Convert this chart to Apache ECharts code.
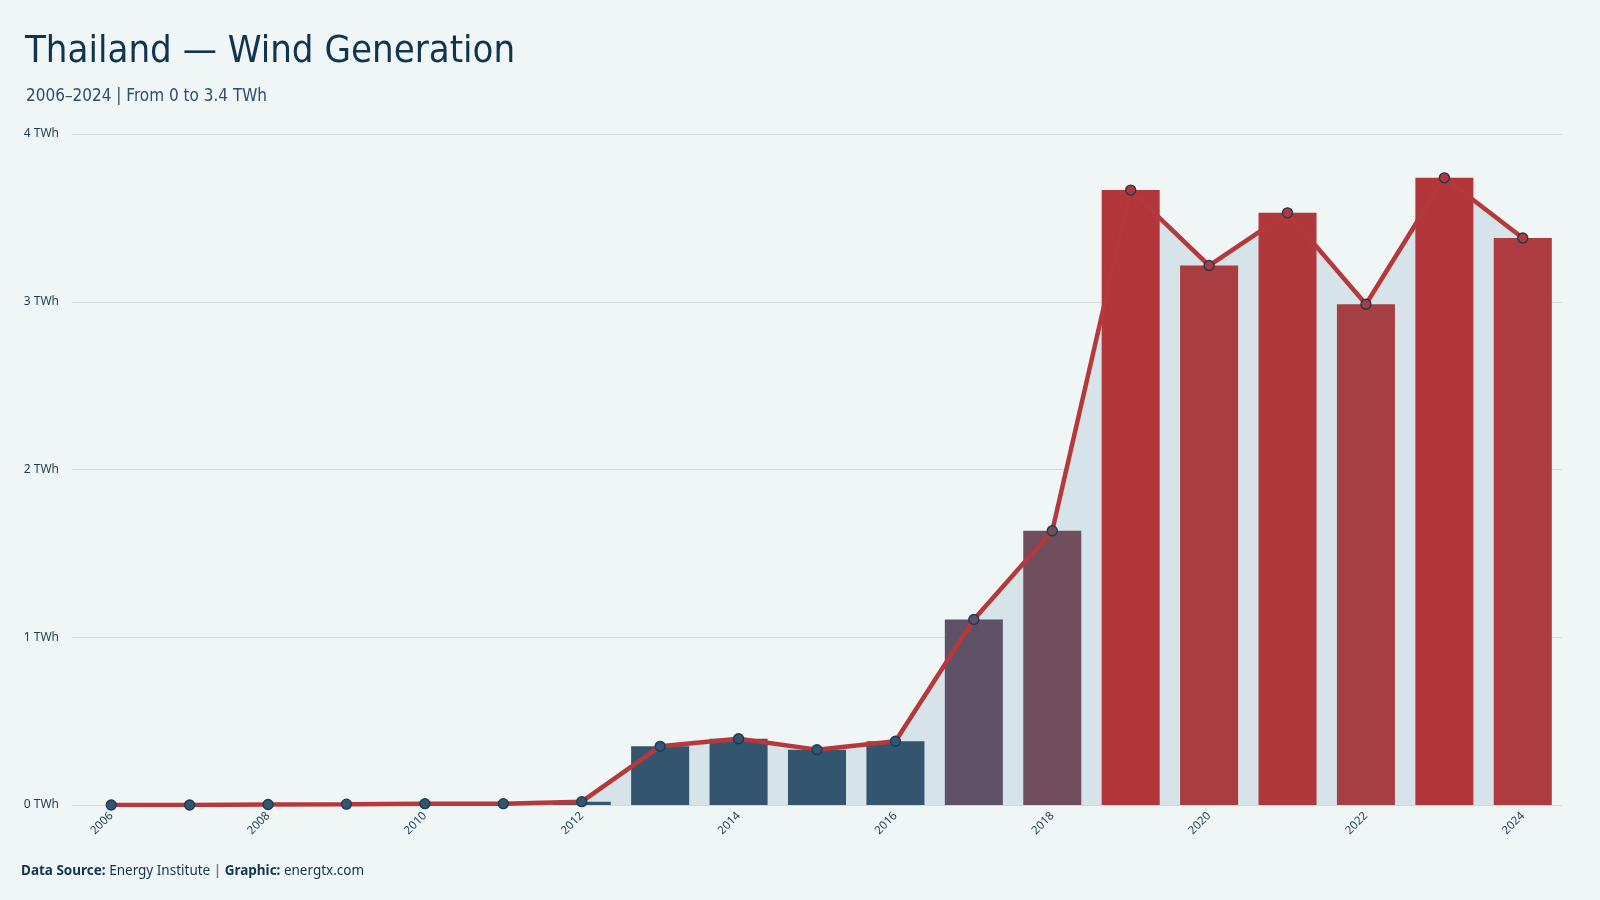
<!DOCTYPE html>
<html>
<head>
<meta charset="utf-8">
<title>Thailand — Wind Generation</title>
<script src="https://cdn.jsdelivr.net/npm/echarts@6/dist/echarts.min.js"></script>
<style>
  html, body { margin: 0; padding: 0; background: #f0f5f5; }
  #chart { width: 1600px; height: 900px; }
</style>
</head>
<body>
<div id="chart"></div>
<script>
const years = ['2006', '2007', '2008', '2009', '2010', '2011', '2012', '2013', '2014', '2015',
  '2016', '2017', '2018', '2019', '2020', '2021', '2022', '2023', '2024'];
const windTWh = [0.0, 0.0, 0.003, 0.005, 0.008, 0.008, 0.02, 0.35, 0.395, 0.33,
  0.38, 1.106, 1.635, 3.666, 3.216, 3.53, 2.985, 3.739, 3.38];
const yTicks = [0, 1, 2, 3, 4];

// colour ramp (value -> rgb), blue for small values, red for large ones
const rampStops = [
  [0.4, [0x34, 0x55, 0x6f]],
  [1.1, [0x5e, 0x50, 0x66]],
  [1.65, [0x72, 0x4e, 0x5d]],
  [3.0, [0xa5, 0x40, 0x44]],
  [3.7, [0xb3, 0x36, 0x3a]]
];
function valueColor(v) {
  if (v <= rampStops[0][0]) return `rgb(${rampStops[0][1].join(',')})`;
  for (let i = 1; i < rampStops.length; i++) {
    const [v1, c1] = rampStops[i];
    const [v0, c0] = rampStops[i - 1];
    if (v <= v1) {
      const t = (v - v0) / (v1 - v0);
      const c = c0.map((a, k) => Math.round(a + (c1[k] - a) * t));
      return `rgb(${c.join(',')})`;
    }
  }
  return `rgb(${rampStops[rampStops.length - 1][1].join(',')})`;
}

const textDark = '#1f3a52';
const condensed = '"DejaVu Sans Condensed", "Liberation Sans Narrow", "Roboto"';
const chart = echarts.init(document.getElementById('chart'));

const option = {
  backgroundColor: '#f0f5f5',
  animation: false,
  title: [
    {
      text: 'Thailand — Wind Generation',
      left: 20,
      top: 28,
      textStyle: {
        fontFamily: condensed,
        fontSize: 38,
        fontWeight: 'normal',
        color: '#0f3550'
      }
    },
    {
      text: '2006–2024 | From 0 to 3.4 TWh',
      left: 21,
      top: 83,
      textStyle: {
        fontFamily: condensed,
        fontSize: 17,
        fontWeight: 'normal',
        color: '#2e4f6b'
      }
    }
  ],
  graphic: [
    {
      type: 'text',
      left: 21,
      top: 864,
      style: {
        text: '{b|Data Source:} Energy Institute {sep||} {b|Graphic:} energtx.com',
        rich: {
          b: { fontFamily: 'Noto Sans', fontSize: 13.5, fontWeight: 'bold', fill: '#0f3550' },
          sep: { fontFamily: 'Noto Sans', fontSize: 13.5, fontWeight: 'bold', fill: '#6b8497' }
        },
        font: '13.5px "Noto Sans"',
        fill: '#0f3550'
      }
    }
  ],
  grid: {
    left: 72,
    right: 38,
    top: 134,
    bottom: 95,
    containLabel: false
  },
  xAxis: {
    type: 'category',
    data: years,
    boundaryGap: true,
    axisLine: { show: false },
    axisTick: { show: false },
    axisLabel: {
      interval: 1,
      rotate: 45,
      margin: 9,
      fontFamily: 'Noto Sans',
      fontSize: 11.5,
      color: textDark
    }
  },
  yAxis: {
    type: 'value',
    min: yTicks[0],
    max: yTicks[yTicks.length - 1],
    interval: 1,
    axisLine: { show: false },
    axisTick: { show: false },
    axisLabel: {
      margin: 13,
      fontFamily: 'Noto Sans',
      fontSize: 12,
      color: textDark,
      formatter: v => `${v} TWh`
    },
    splitLine: { lineStyle: { color: '#cfdbdb', width: 1 } }
  },
  series: [
    {
      name: 'area',
      type: 'line',
      data: windTWh,
      z: 1,
      symbol: 'none',
      lineStyle: { width: 0 },
      areaStyle: { color: '#d6e3e8', opacity: 1 },
      silent: true
    },
    {
      name: 'Wind',
      type: 'bar',
      data: windTWh,
      z: 2,
      barWidth: '74%',
      itemStyle: {
        color: p => valueColor(p.value)
      }
    },
    {
      name: 'Wind line',
      type: 'line',
      data: windTWh,
      z: 3,
      symbol: 'circle',
      symbolSize: 10,
      lineStyle: { color: '#b5383b', width: 4.5 },
      itemStyle: {
        color: p => valueColor(p.value),
        borderColor: '#173a55',
        borderWidth: 1.3
      }
    }
  ]
};

chart.setOption(option);
</script>
</body>
</html>
